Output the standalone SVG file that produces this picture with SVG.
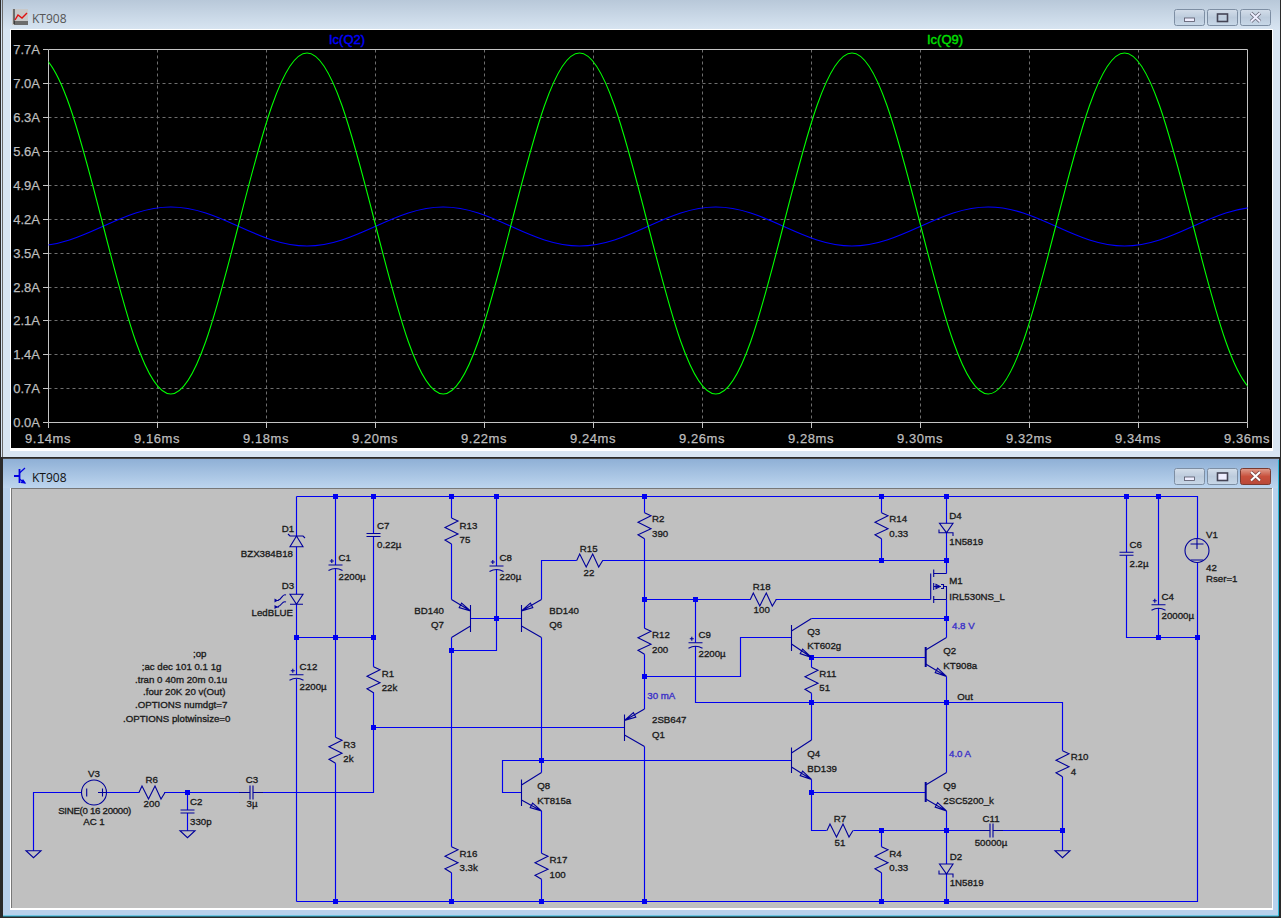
<svg xmlns="http://www.w3.org/2000/svg" width="1281" height="918" viewBox="0 0 1281 918">
<style>
.w{fill:none;stroke:#0000f0;stroke-width:1.15}
.c{fill:none;stroke:#00009a;stroke-width:1.1}
.k{fill:none;stroke:#00009a;stroke-width:2}
.t{font-family:"Liberation Sans",Arial,sans-serif;font-size:9.7px;fill:#1a1a1a;stroke:#1a1a1a;stroke-width:.32}
.m{text-anchor:middle}
.e{text-anchor:end}
.b{font-family:"Liberation Sans",Arial,sans-serif;font-size:9.7px;fill:#3a30c8;stroke:#3a30c8;stroke-width:.35}
.a{font-family:"Liberation Sans",Arial,sans-serif;font-size:13px;fill:#bdbdbd;stroke:#bdbdbd;stroke-width:.25;text-anchor:end}
.x{font-family:"Liberation Sans",Arial,sans-serif;font-size:13px;letter-spacing:.6px;fill:#bdbdbd;stroke:#bdbdbd;stroke-width:.25;text-anchor:middle}
.h{font-family:"Liberation Sans",Arial,sans-serif;font-size:13px;stroke-width:.4}
.ti{font-family:"Open Sans",Arial,sans-serif;font-size:12px}
.g{fill:none;stroke:#6e6e6e;stroke-width:1;stroke-dasharray:3 3}
.ax{fill:none;stroke:#c4c4c4;stroke-width:1}
.btn{stroke:#7d8ea3;stroke-width:1}
</style>
<defs>
<linearGradient id="tb1" x1="0" y1="0" x2="0" y2="1"><stop offset="0" stop-color="#b8c8d9"/><stop offset="1" stop-color="#d8e5f2"/></linearGradient>
<linearGradient id="tb2" x1="0" y1="0" x2="0" y2="1"><stop offset="0" stop-color="#8fb0d6"/><stop offset="1" stop-color="#bdd5ee"/></linearGradient>
<linearGradient id="bg" x1="0" y1="0" x2="0" y2="1"><stop offset="0" stop-color="#d4deea"/><stop offset=".5" stop-color="#bccbdc"/><stop offset="1" stop-color="#c8d8e8"/></linearGradient>
<linearGradient id="br" x1="0" y1="0" x2="0" y2="1"><stop offset="0" stop-color="#e0a090"/><stop offset=".5" stop-color="#c8503c"/><stop offset="1" stop-color="#b84838"/></linearGradient>
<clipPath id="pc"><rect x="48.5" y="30" width="1199" height="400"/></clipPath>
<path id="rv" class="c" d="M0 0L6.5 3L-6.5 9.5L6.5 16L-6.5 22L0 26"/>
<path id="rh" class="c" d="M0 0L3 -6.5L9.5 6.5L16 -6.5L22 6.5L26 0"/>
<path id="cp" class="c" d="M-7 0H7M-7 5.5Q0 1.5 7 5.5M-5.7 -4H-1.7M-3.7 -6V-2"/>
<path id="cv" class="c" d="M-7 0H7M-7 3H7"/>
<path id="ch" class="c" d="M0 -7V7M3 -7V7"/>
<path id="gn" class="c" d="M-7.5 0H7.5L0 7Z"/>
<rect id="j" x="-2.5" y="-2.5" width="5" height="5" fill="#0000f0"/>
</defs>

<rect width="1281" height="918" fill="#2a2a2a"/>
<g id="plot-window">
<rect x="1" y="0" width="1279" height="457" fill="#d8e5f2"/>
<rect x="1" y="0" width="1279" height="30" fill="url(#tb1)"/>
<rect x="10" y="29" width="1263" height="422" fill="#fff"/>
<rect x="11" y="30" width="1261" height="418" fill="#000"/>
<path d="M2.5 0V457" stroke="#6a6a6a" stroke-width="1"/>
<g id="plot-icon"><rect x="12" y="9" width="16" height="16" fill="#c8c8c8"/><path d="M14 9V24H28M14 22H28" fill="none" stroke="#111" stroke-width="1"/><path d="M15 20L18 15L22 18L27 13" fill="none" stroke="#e01010" stroke-width="1.4"/></g>
<text class="ti" x="32" y="23" fill="#555">KT908</text>
<g id="plot-buttons">
<rect class="btn" x="1174.5" y="9.5" width="30" height="16" rx="2" fill="url(#bg)"/>
<rect class="btn" x="1207.5" y="9.5" width="30" height="16" rx="2" fill="url(#bg)"/>
<rect class="btn" x="1240.5" y="9.5" width="30" height="16" rx="2" fill="url(#bg)"/>
<rect x="1184.5" y="18" width="10" height="3.5" fill="#eef" stroke="#556" stroke-width=".8"/>
<rect x="1217.5" y="14" width="10" height="7.5" fill="none" stroke="#445" stroke-width="1.6"/>
<path d="M1251 13L1260 21.5M1260 13L1251 21.5" stroke="#667" stroke-width="3.6"/><path d="M1251 13L1260 21.5M1260 13L1251 21.5" stroke="#eef" stroke-width="2"/>
</g>
<path class="g" d="M157.5 49.5V422.5M266.5 49.5V422.5M375.5 49.5V422.5M484.5 49.5V422.5M593.5 49.5V422.5M702.5 49.5V422.5M811.5 49.5V422.5M920.5 49.5V422.5M1029.5 49.5V422.5M1138.5 49.5V422.5"/>
<path class="g" d="M48.5 83.5H1247.5M48.5 117.5H1247.5M48.5 151.5H1247.5M48.5 185.5H1247.5M48.5 219.5H1247.5M48.5 253.5H1247.5M48.5 287.5H1247.5M48.5 320.5H1247.5M48.5 354.5H1247.5M48.5 388.5H1247.5"/>
<path class="ax" d="M48.5 49.5H1247.5V422.5H48.5ZM43 49.5H48.5M43 83.5H48.5M43 117.5H48.5M43 151.5H48.5M43 185.5H48.5M43 219.5H48.5M43 253.5H48.5M43 287.5H48.5M43 320.5H48.5M43 354.5H48.5M43 388.5H48.5M43 422.5H48.5M48.5 422.5V428M157.5 422.5V428M266.5 422.5V428M375.5 422.5V428M484.5 422.5V428M593.5 422.5V428M702.5 422.5V428M811.5 422.5V428M920.5 422.5V428M1029.5 422.5V428M1138.5 422.5V428M1247.5 422.5V428"/>
<g clip-path="url(#pc)">
<path id="trace-q2" fill="none" stroke="#0000ff" stroke-width="1.1" d="M34.5 246c24.655 0 45.905-9.51 68.125-19.5c22.22-9.99 43.47-19.5 68.125-19.5c24.655 0 45.905 9.51 68.125 19.5c22.22 9.99 43.47 19.5 68.125 19.5c24.655 0 45.905-9.51 68.125-19.5c22.22-9.99 43.47-19.5 68.125-19.5c24.655 0 45.905 9.51 68.125 19.5c22.22 9.99 43.47 19.5 68.125 19.5c24.655 0 45.905-9.51 68.125-19.5c22.22-9.99 43.47-19.5 68.125-19.5c24.655 0 45.905 9.51 68.125 19.5c22.22 9.99 43.47 19.5 68.125 19.5c24.655 0 45.905-9.51 68.125-19.5c22.22-9.99 43.47-19.5 68.125-19.5c24.655 0 45.905 9.51 68.125 19.5c22.22 9.99 43.47 19.5 68.125 19.5c24.655 0 45.905-9.51 68.125-19.5c22.22-9.99 43.47-19.5 68.125-19.5"/>
<path id="trace-q9" fill="none" stroke="#00ff00" stroke-width="1.1" d="M34.5 53c24.655 0 45.905 83.15 68.125 170.5c22.22 87.35 43.47 170.5 68.125 170.5c24.655 0 45.905-83.15 68.125-170.5c22.22-87.35 43.47-170.5 68.125-170.5c24.655 0 45.905 83.15 68.125 170.5c22.22 87.35 43.47 170.5 68.125 170.5c24.655 0 45.905-83.15 68.125-170.5c22.22-87.35 43.47-170.5 68.125-170.5c24.655 0 45.905 83.15 68.125 170.5c22.22 87.35 43.47 170.5 68.125 170.5c24.655 0 45.905-83.15 68.125-170.5c22.22-87.35 43.47-170.5 68.125-170.5c24.655 0 45.905 83.15 68.125 170.5c22.22 87.35 43.47 170.5 68.125 170.5c24.655 0 45.905-83.15 68.125-170.5c22.22-87.35 43.47-170.5 68.125-170.5c24.655 0 45.905 83.15 68.125 170.5c22.22 87.35 43.47 170.5 68.125 170.5"/>
</g>
<text class="h" x="329" y="44" fill="#0000ff" stroke="#0000ff">Ic(Q2)</text>
<text class="h" x="927" y="44" fill="#00e000" stroke="#00e000">Ic(Q9)</text>
<text class="a" x="40" y="54">7.7A</text><text class="a" x="40" y="88">7.0A</text><text class="a" x="40" y="122">6.3A</text><text class="a" x="40" y="156">5.6A</text><text class="a" x="40" y="190">4.9A</text><text class="a" x="40" y="224">4.2A</text><text class="a" x="40" y="258">3.5A</text><text class="a" x="40" y="292">2.8A</text><text class="a" x="40" y="325">2.1A</text><text class="a" x="40" y="359">1.4A</text><text class="a" x="40" y="393">0.7A</text><text class="a" x="40" y="427">0.0A</text>
<text class="x" x="48" y="443">9.14ms</text><text class="x" x="157" y="443">9.16ms</text><text class="x" x="266" y="443">9.18ms</text><text class="x" x="375" y="443">9.20ms</text><text class="x" x="484" y="443">9.22ms</text><text class="x" x="593" y="443">9.24ms</text><text class="x" x="702" y="443">9.26ms</text><text class="x" x="811" y="443">9.28ms</text><text class="x" x="920" y="443">9.30ms</text><text class="x" x="1029" y="443">9.32ms</text><text class="x" x="1138" y="443">9.34ms</text><text class="x" x="1247" y="443">9.36ms</text>
</g>

<g id="schematic-window">
<rect x="3" y="459" width="1276" height="457" fill="#b8d1ec"/>
<rect x="3" y="459" width="1276" height="29" fill="url(#tb2)"/>
<path d="M3 458.5H1279" stroke="#4a4a4a"/>
<path d="M1278.5 460V916H3" fill="none" stroke="#28b8d8"/>
<rect x="10" y="488" width="1263" height="422" fill="#fff"/>
<rect x="11" y="489" width="1261" height="419" fill="#c0c0c0"/>
<path d="M11 488.5H1272M11.5 488V908" stroke="#777" stroke-width="1"/>
<g id="schematic-icon" fill="none" stroke="#0000e0" stroke-width="1.2"><path d="M14 476H19M19.5 469V483" stroke-width="1.8"/><path d="M19.5 473L25 468M19.5 479L25 483"/><path d="M25 483l-3.5-.5l1.5-2.5z" fill="#0000e0"/></g>
<text class="ti" x="32" y="482" fill="#111">KT908</text>
<g id="schematic-buttons">
<rect class="btn" x="1174.5" y="468.5" width="30" height="16" rx="2" fill="url(#bg)"/>
<rect class="btn" x="1207.5" y="468.5" width="30" height="16" rx="2" fill="url(#bg)"/>
<rect x="1240.5" y="468.5" width="30" height="16" rx="2" fill="url(#br)" stroke="#7a3a30"/>
<rect x="1184.5" y="477" width="10" height="3.5" fill="#eef" stroke="#556" stroke-width=".8"/>
<rect x="1217.5" y="473" width="10" height="7.5" fill="#eef" stroke="#445" stroke-width="1.6"/>
<path d="M1251 472L1260 480.5M1260 472L1251 480.5" stroke="#744" stroke-width="3.6"/><path d="M1251 472L1260 480.5M1260 472L1251 480.5" stroke="#fff" stroke-width="2"/>
</g>
</g>

<g id="connectors">
<path class="w" d="M296.5 496.5H1197.5V538M1197.5 562.5V901.5H296.5M296.5 496.5V536M296.5 546.7V594.3M296.5 604.3V674.7M296.5 679V901.5M296.5 637.5H373.5"/>
<path class="w" d="M335.5 496.5V565M335.5 569V737.3M335.5 763.3V901.5"/>
<path class="w" d="M373.5 496.5V533.3M373.5 536.5V666.7M373.5 692.3V792.5H263M239 792.5H164.3M139.3 792.5H106.5M81.5 792.5H33.5V850.7M373.5 727.5H624.5"/>
<path class="w" d="M187.5 792.5V810M187.5 813V830.7"/>
<path class="w" d="M451.5 496.5V518M451.5 544V599.5M451.5 637.5V846.7M451.5 872.7V901.5M451.5 650.5H496.5V569M496.5 566V496.5M470.5 618.5H521.5"/>
<path class="w" d="M541.5 599.5V560.5H576.7M602.3 560.5H946.5M541.5 637.5V772.5M541.5 811V853.3M541.5 879.3V901.5M521.5 792.5H502.5V760.5H791.5"/>
<path class="w" d="M644.5 496.5V512.7M644.5 538.7V628.3M644.5 654.3V709M644.5 746.5V901.5M644.5 599.5H750.7M775.7 599.5H930.5M644.5 676.5H740.5V637.5H791.5"/>
<path class="w" d="M695.5 599.5V642.7M695.5 646V702.5H1062.5V750.7M1062.5 776.7V850.7"/>
<path class="w" d="M881.5 496.5V512.7M881.5 538.7V560.5M946.5 496.5V523.3M946.5 532.7V573.5M946.5 599.5V637.5M811.5 618.5H946.5M811.5 657.5H925.5M811.5 657.5V667.3M811.5 693.3V740M811.5 779.5V830.5H826.7M811.5 792.5H925.5M946.5 676.5V772.5M946.5 811V864M946.5 874V901.5"/>
<path class="w" d="M853.3 830.5H980M1003 830.5H1062.5M881.5 830.5V846.7M881.5 872.7V901.5"/>
<path class="w" d="M1126.5 496.5V552.3M1126.5 555.3V637.5H1197.5M1158.5 496.5V604.7M1158.5 608V637.5"/>
<g id="junctions">
<use href="#j" x="335.5" y="496.5"/><use href="#j" x="373.5" y="496.5"/><use href="#j" x="451.5" y="496.5"/><use href="#j" x="496.5" y="496.5"/><use href="#j" x="644.5" y="496.5"/><use href="#j" x="881.5" y="496.5"/><use href="#j" x="946.5" y="496.5"/><use href="#j" x="1126.5" y="496.5"/><use href="#j" x="1158.5" y="496.5"/>
<use href="#j" x="296.5" y="637.5"/><use href="#j" x="335.5" y="637.5"/><use href="#j" x="373.5" y="637.5"/><use href="#j" x="1158.5" y="637.5"/><use href="#j" x="1197.5" y="637.5"/>
<use href="#j" x="881.5" y="560.5"/><use href="#j" x="946.5" y="560.5"/><use href="#j" x="644.5" y="599.5"/><use href="#j" x="695.5" y="599.5"/><use href="#j" x="496.5" y="618.5"/><use href="#j" x="946.5" y="618.5"/><use href="#j" x="451.5" y="650.5"/><use href="#j" x="811.5" y="657.5"/><use href="#j" x="644.5" y="676.5"/><use href="#j" x="811.5" y="702.5"/><use href="#j" x="946.5" y="702.5"/><use href="#j" x="373.5" y="727.5"/><use href="#j" x="541.5" y="760.5"/><use href="#j" x="187.5" y="792.5"/><use href="#j" x="811.5" y="792.5"/><use href="#j" x="881.5" y="830.5"/><use href="#j" x="946.5" y="830.5"/><use href="#j" x="1062.5" y="830.5"/>
<use href="#j" x="335.5" y="901.5"/><use href="#j" x="451.5" y="901.5"/><use href="#j" x="541.5" y="901.5"/><use href="#j" x="644.5" y="901.5"/><use href="#j" x="881.5" y="901.5"/><use href="#j" x="946.5" y="901.5"/>
</g>
</g>

<g id="D1"><path class="c" d="M290 546.7H303L296.5 536ZM288 534L290 536H303L305 538"/><text class="t" x="281.7" y="531.7">D1</text><text class="t e" x="293" y="557.3">BZX384B18</text></g>
<g id="D3"><path class="c" d="M290 594.3H303L296.5 604.3ZM290 604.3H303M286 595C282 593 282 600 278 600M275 600.5h4M286 602C282 600 282 606 278 606.5M275 607h4"/><path d="M274.5 598.5l3.5 2l-3.5 2zM274.5 605l3.5 2l-3.5 2z" fill="#00009a"/><text class="t" x="281.7" y="589.3">D3</text><text class="t e" x="293" y="615.7">LedBLUE</text></g>
<g id="D4"><path class="c" d="M939.5 523.3H953L946.5 532.7ZM939 529.5V532.7H953V536"/><text class="t" x="949.3" y="518.7">D4</text><text class="t" x="949.3" y="544.7">1N5819</text></g>
<g id="D2"><path class="c" d="M939.5 864H953L946.5 874ZM939 870.5V874H953V877.5"/><text class="t" x="949.7" y="859.7">D2</text><text class="t" x="949.7" y="885.7">1N5819</text></g>

<g id="C1"><use href="#cp" x="335.5" y="565"/><text class="t" x="338.5" y="561">C1</text><text class="t" x="338.5" y="580">2200µ</text></g>
<g id="C7"><use href="#cv" x="373.5" y="533.5"/><text class="t" x="377" y="529">C7</text><text class="t" x="377" y="547.7">0.22µ</text></g>
<g id="C12"><use href="#cp" x="296.5" y="674.7"/><text class="t" x="299.5" y="669.7">C12</text><text class="t" x="299.5" y="690">2200µ</text></g>
<g id="C8"><use href="#cp" x="496.5" y="566"/><text class="t" x="499.5" y="561">C8</text><text class="t" x="499.5" y="580">220µ</text></g>
<g id="C9"><use href="#cp" x="695.5" y="642.7"/><text class="t" x="698.5" y="637.7">C9</text><text class="t" x="698.5" y="657">2200µ</text></g>
<g id="C4"><use href="#cp" x="1158.5" y="604.7"/><text class="t" x="1161.5" y="600">C4</text><text class="t" x="1161.5" y="619">20000µ</text></g>
<g id="C6"><use href="#cv" x="1126.5" y="552.3"/><text class="t" x="1129.5" y="547.7">C6</text><text class="t" x="1129.5" y="567.3">2.2µ</text></g>
<g id="C2"><use href="#cv" x="187.5" y="810"/><text class="t" x="190" y="805">C2</text><text class="t" x="190" y="825">330p</text></g>
<g id="C3"><use href="#ch" x="250" y="792.5"/><path class="c" d="M239 792.5H250M253 792.5H263"/><text class="t m" x="252" y="783">C3</text><text class="t m" x="252" y="806.7">3µ</text></g>
<g id="C11"><use href="#ch" x="990" y="830.5"/><path class="c" d="M980 830.5H990M993 830.5H1003"/><text class="t m" x="991" y="821.7">C11</text><text class="t m" x="991" y="845.7">50000µ</text></g>

<g id="R13"><use href="#rv" x="451.5" y="518"/><text class="t" x="459.5" y="528.7">R13</text><text class="t" x="459.5" y="542.7">75</text></g>
<g id="R2"><use href="#rv" x="644.5" y="512.7"/><text class="t" x="652" y="521.7">R2</text><text class="t" x="652" y="536.7">390</text></g>
<g id="R12"><use href="#rv" x="644.5" y="628.3"/><text class="t" x="652" y="637.7">R12</text><text class="t" x="652" y="652.7">200</text></g>
<g id="R14"><use href="#rv" x="881.5" y="512.7"/><text class="t" x="889.3" y="521.7">R14</text><text class="t" x="889.3" y="536.7">0.33</text></g>
<g id="R11"><use href="#rv" x="811.5" y="667.3"/><text class="t" x="819.3" y="676.7">R11</text><text class="t" x="819.3" y="690.7">51</text></g>
<g id="R1"><use href="#rv" x="373.5" y="666.7"/><text class="t" x="381.7" y="676.7">R1</text><text class="t" x="381.7" y="691">22k</text></g>
<g id="R3"><use href="#rv" x="335.5" y="737.3"/><text class="t" x="343.3" y="747.7">R3</text><text class="t" x="343.3" y="761.7">2k</text></g>
<g id="R16"><use href="#rv" x="451.5" y="846.7"/><text class="t" x="459.5" y="856.7">R16</text><text class="t" x="459.5" y="870.7">3.3k</text></g>
<g id="R17"><use href="#rv" x="541.5" y="853.3"/><text class="t" x="549.5" y="862.7">R17</text><text class="t" x="549.5" y="877.7">100</text></g>
<g id="R4"><use href="#rv" x="881.5" y="846.7"/><text class="t" x="889.3" y="856.7">R4</text><text class="t" x="889.3" y="870.7">0.33</text></g>
<g id="R10"><use href="#rv" x="1062.5" y="750.7"/><text class="t" x="1070.7" y="759.7">R10</text><text class="t" x="1070.7" y="774.7">4</text></g>
<g id="R15"><use href="#rh" x="576.7" y="560.5"/><text class="t m" x="588.7" y="551.7">R15</text><text class="t m" x="589" y="576">22</text></g>
<g id="R18"><use href="#rh" x="750.3" y="599.5"/><text class="t m" x="761.7" y="589.7">R18</text><text class="t m" x="761.7" y="613.3">100</text></g>
<g id="R6"><use href="#rh" x="139" y="792.5"/><text class="t m" x="151.7" y="782.7">R6</text><text class="t m" x="151.7" y="806.7">200</text></g>
<g id="R7"><use href="#rh" x="827" y="830.5"/><text class="t m" x="840" y="821.7">R7</text><text class="t m" x="840" y="845.7">51</text></g>

<g id="Q7"><path class="c" d="M470.5 605V632M451.5 599.5L470.5 611M470.5 626L451.5 637.5M470.5 611l-11.3-3.4l2.4-4.4z"/><text class="t" x="414.3" y="613.7">BD140</text><text class="t" x="431" y="628.3">Q7</text></g>
<g id="Q6"><path class="c" d="M521.5 605V632M541.5 599.5L521.5 611M521.5 626L541.5 637.5M521.5 611l11.3-3.4l-2.4-4.4z"/><text class="t" x="549.3" y="613.7">BD140</text><text class="t" x="549.3" y="628.3">Q6</text></g>
<g id="Q1"><path class="c" d="M624.5 714.5V741M644.5 709L624.5 720.5M624.5 735L644.5 746.5M624.5 720.5l11.3-3.4l-2.4-4.4z"/><text class="t" x="652" y="722.7">2SB647</text><text class="t" x="652" y="737.7">Q1</text></g>
<g id="Q8"><path class="c" d="M521.5 779.5V806M541.5 772.5L521.5 785M521.5 800L541.5 811M541.5 811l-11.3-3.4l2.4-4.4z"/><text class="t" x="537.3" y="788.7">Q8</text><text class="t" x="537.3" y="803.7">KT815a</text></g>
<g id="Q3"><path class="c" d="M791.5 625V651M811.5 618.5L791.5 631M791.5 644L811.5 657.5M811.5 657.5l-11.3-3.9l2.4-4.4z"/><text class="t" x="807.3" y="634.7">Q3</text><text class="t" x="807.3" y="649">KT602g</text></g>
<g id="Q2"><path class="k" d="M925.7 647V667"/><path class="c" d="M946.5 637.5L925.7 650M925.7 664L946.5 676.5M946.5 676.5l-11.3-3.9l2.4-4.4z"/><text class="t" x="943.3" y="653.7">Q2</text><text class="t" x="943.3" y="668.7">KT908a</text></g>
<g id="Q4"><path class="c" d="M791.5 747.5V773M811.5 740L791.5 753M791.5 767L811.5 779.5M811.5 779.5l-11.3-3.9l2.4-4.4z"/><text class="t" x="807.3" y="756.7">Q4</text><text class="t" x="807.3" y="771.7">BD139</text></g>
<g id="Q9"><path class="k" d="M925.7 782V802"/><path class="c" d="M946.5 772.5L925.7 785M925.7 799L946.5 811M946.5 811l-11.3-3.9l2.4-4.4z"/><text class="t" x="943.3" y="788.7">Q9</text><text class="t" x="943.3" y="803.7">2SC5200_k</text></g>
<g id="M1"><path class="c" d="M930.7 573.5V599.5M933.7 569.5V577M933.7 583V590M933.7 596V603M933.7 573.5H946.5M933.7 599.5H946.5M933.7 586.5H941M936 584.5V588.5L940 586.5ZM941 584.5H943.5V588.5H941M943.5 586.5H946.5V599.5"/><text class="t" x="949.3" y="583.7">M1</text><text class="t" x="949.3" y="599.7">IRL530NS_L</text></g>

<g id="V3"><circle class="c" cx="94" cy="792.5" r="12.5"/><path class="c" d="M86.7 788.5V796.5M98 792.5H106.5M102.5 788.5V796.5"/><text class="t m" x="94" y="776.7">V3</text><text class="t m" x="94.7" y="814" textLength="73">SINE(0 16 20000)</text><text class="t m" x="94" y="824.7">AC 1</text></g>
<g id="V1"><circle class="c" cx="1197" cy="550.5" r="12"/><path class="c" d="M1190.5 544H1203.5M1197 539V549M1190.5 560H1203.5"/><text class="t" x="1206" y="538.3">V1</text><text class="t" x="1206" y="570.7">42</text><text class="t" x="1206" y="581.7">Rser=1</text></g>
<g id="GND1"><use href="#gn" x="33.5" y="850.7"/></g>
<g id="GND2"><use href="#gn" x="187.5" y="830.7"/></g>
<g id="GND3"><use href="#gn" x="1062.5" y="850.7"/></g>
<g id="directives">
<text class="t" x="193" y="656.7">;op</text>
<text class="t" x="141.7" y="669.7">;ac dec 101 0.1 1g</text>
<text class="t" x="135" y="682.7">.tran 0 40m 20m 0.1u</text>
<text class="t" x="143" y="695.3">.four 20K 20 v(Out)</text>
<text class="t" x="135" y="708.3">.OPTIONS numdgt=7</text>
<text class="t" x="123" y="721.7">.OPTIONS plotwinsize=0</text>
</g>
<g id="probes">
<text class="b" x="647.3" y="698.7">30 mA</text>
<text class="b" x="952" y="628.7">4.8 V</text>
<text class="b" x="949" y="756.7">4.0 A</text>
<text class="t" x="957.3" y="699.7">Out</text>
</g>
</svg>
